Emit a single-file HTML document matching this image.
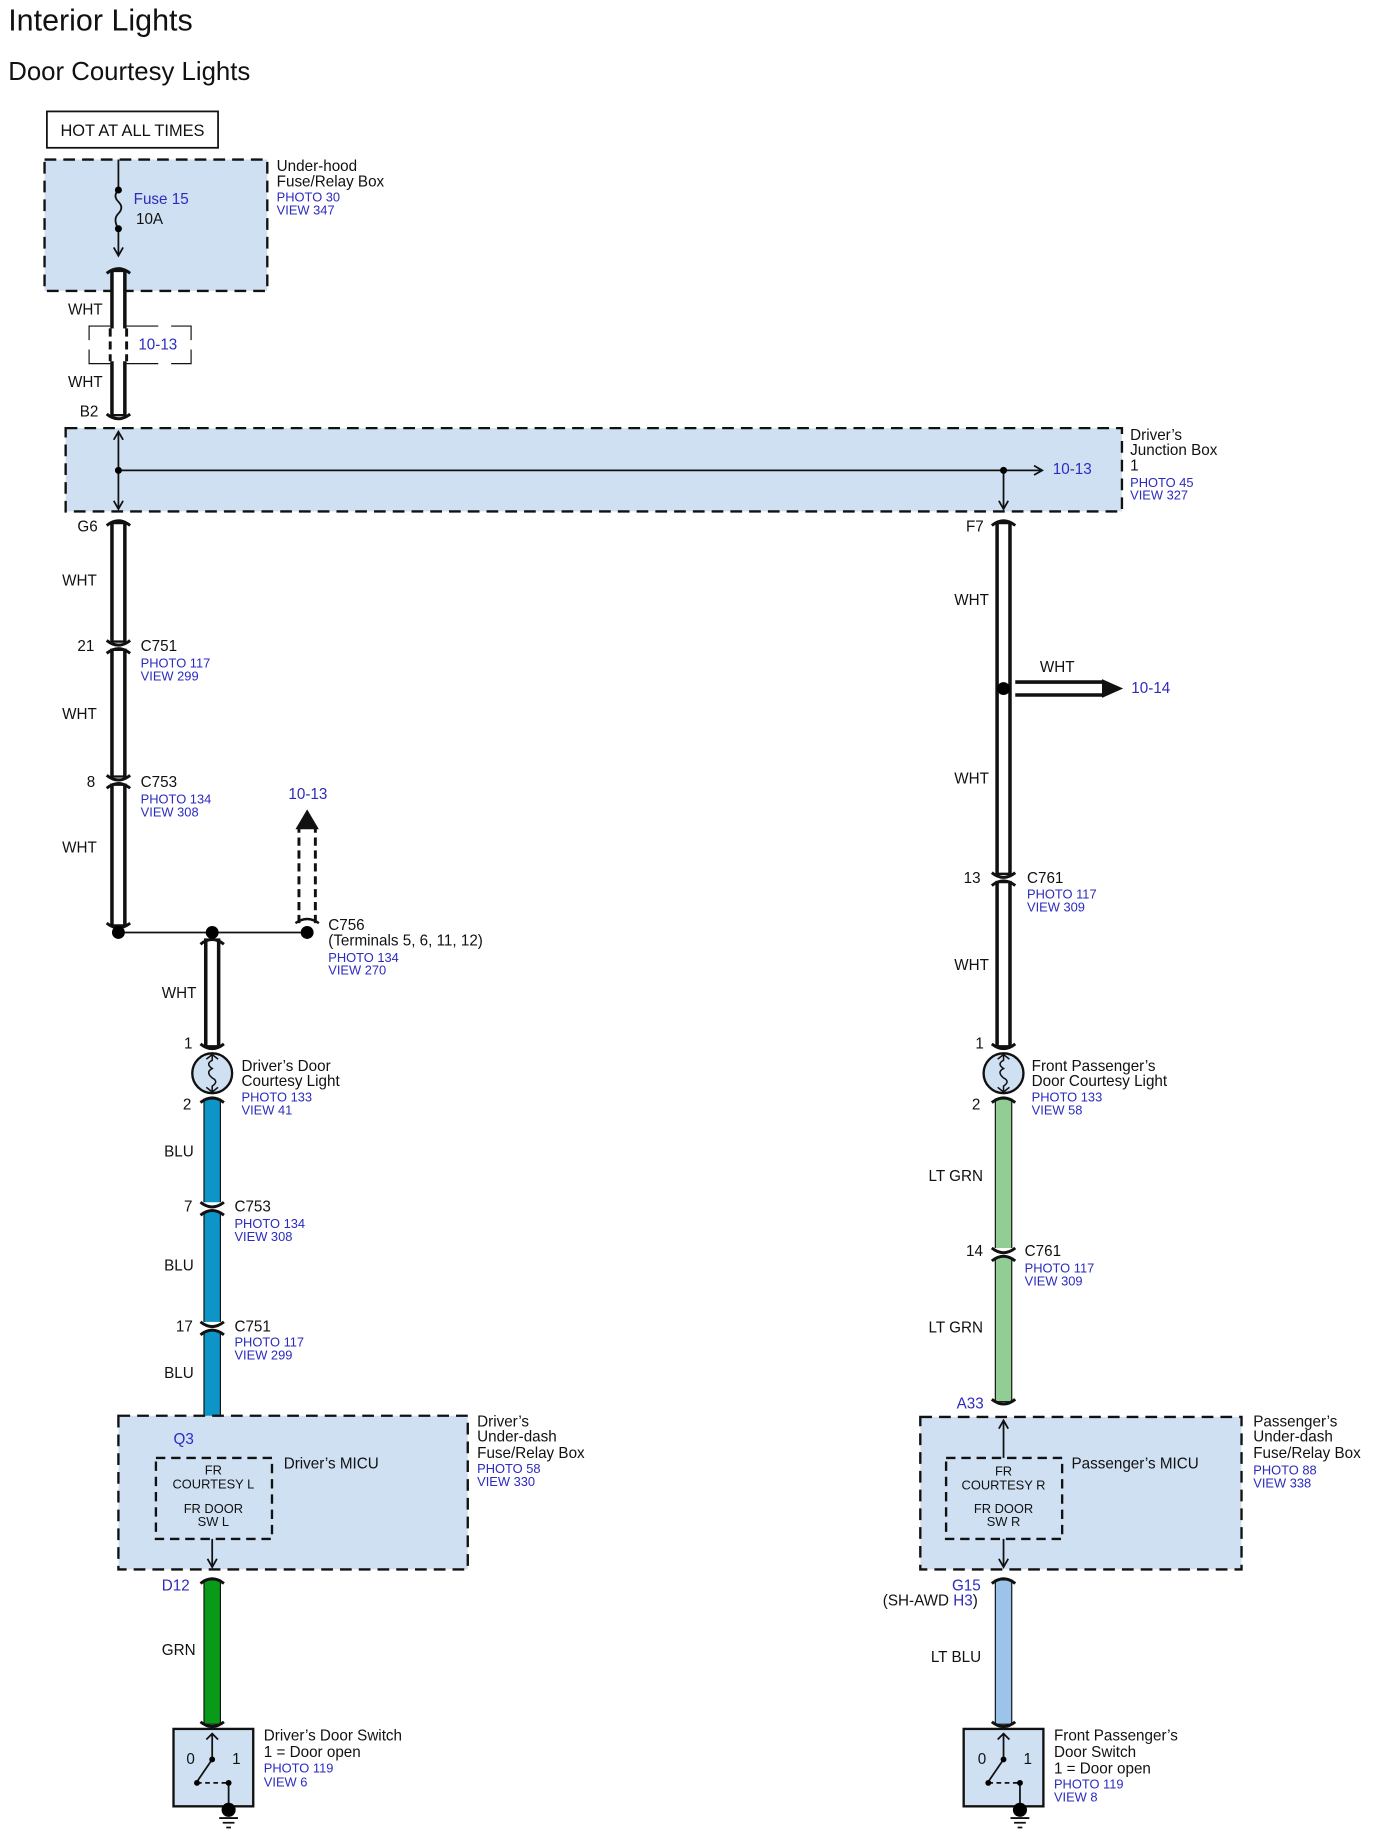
<!DOCTYPE html>
<html><head><meta charset="utf-8"><style>
html,body{margin:0;padding:0;background:#fff}
svg{display:block}
text{font-family:"Liberation Sans",Arial,sans-serif;font-size:13px;fill:#111}
.b{fill:#2b2bbf;font-size:11px}
.bb{fill:#2b2bbf}
.s{font-size:11px}
</style></head><body>
<svg width="1374" height="1838" viewBox="0 0 1172 1567" preserveAspectRatio="none" xmlns="http://www.w3.org/2000/svg">
<defs>
<marker id="ah" markerWidth="10" markerHeight="10" refX="8" refY="5" orient="auto" markerUnits="userSpaceOnUse">
<path d="M1,1 L8,5 L1,9" fill="none" stroke="#111" stroke-width="1.5"/></marker>
</defs>
<text x="7" y="26" style="font-size:26px">Interior Lights</text>
<text x="7" y="68" style="font-size:22px">Door Courtesy Lights</text>

<rect x="40" y="95" width="146" height="31" fill="#fff" stroke="#111" stroke-width="1.5"/>
<text x="113" y="116" text-anchor="middle" style="font-size:14px">HOT AT ALL TIMES</text>

<rect x="38" y="136" width="190" height="112" fill="#cfe0f3" stroke="#111" stroke-width="2" stroke-dasharray="10,6"/>
<path d="M101,136 V162 M101,195 V218" stroke="#111" stroke-width="1.5" marker-end="url(#ah)"/>
<path d="M101,162 q-5,5 0,10 q5,5 0,10 q-5,5 0,13" fill="none" stroke="#111" stroke-width="1.5"/>
<circle cx="101" cy="162" r="3"/><circle cx="101" cy="195" r="3"/>
<text x="114" y="174" class="bb">Fuse 15</text>
<text x="116" y="191">10A</text>
<text x="236" y="146">Under-hood</text><text x="236" y="159">Fuse/Relay Box</text>
<text x="236" y="172" class="b">PHOTO 30</text><text x="236" y="183" class="b">VIEW 347</text>

<g stroke="#111" stroke-width="14" fill="none">
<path d="M101,230 V355"/><path d="M101,445 V548 M101,553 V663 M101,668 V790"/>
<path d="M181,800 V893"/><path d="M856,445 V746 M856,751 V893"/>
<path d="M866,587 H942"/>
</g>
<g stroke="#fff" stroke-width="8" fill="none">
<path d="M101,232 V353"/><path d="M101,447 V546 M101,555 V661 M101,670 V788"/>
<path d="M181,802 V891"/><path d="M856,447 V744 M856,753 V891"/>
<path d="M864,587 H942"/>
</g>
<polygon points="940,579 958,587 940,595" fill="#111"/>
<rect x="88" y="280" width="26" height="28" fill="#fff"/>
<path d="M94,280 V308 M108,280 V308" stroke="#111" stroke-width="2.5" stroke-dasharray="7,4"/>
<path d="M76,290 V278 H94 M108,278 H135 M146,278 H163 V290 M76,298 V310 H94 M108,310 H135 M146,310 H163 V298" fill="none" stroke="#111" stroke-width="1"/>
<text x="118" y="298" class="bb">10-13</text>

<rect x="174" y="937" width="14" height="295" fill="#0d95c8" stroke="#111" stroke-width="1"/>
<rect x="174" y="1347" width="14" height="123" fill="#0a9a1a" stroke="#111" stroke-width="1"/>
<rect x="849" y="937" width="14" height="258" fill="#93cd96" stroke="#111" stroke-width="1"/>
<rect x="849" y="1347" width="14" height="123" fill="#9cc3ea" stroke="#111" stroke-width="1"/>
<g fill="#fff"><rect x="170" y="1025" width="22" height="8"/><rect x="170" y="1127" width="22" height="8"/><rect x="845" y="1064" width="22" height="8"/></g>

<g fill="none" stroke="#111" stroke-width="2.5">
<path d="M91,233 Q101,225 111,233"/><path d="M91,353 Q101,361 111,353"/>
<path d="M91,448 Q101,440 111,448"/><path d="M91,546 Q101,554 111,546"/><path d="M91,557 Q101,549 111,557"/>
<path d="M91,661 Q101,669 111,661"/><path d="M91,672 Q101,664 111,672"/><path d="M91,787 Q101,795 111,787"/>
<path d="M171,805 Q181,797 191,805"/><path d="M171,890 Q181,898 191,890"/>
<path d="M171,940 Q181,932 191,940"/><path d="M171,1025 Q181,1033 191,1025"/><path d="M171,1036 Q181,1028 191,1036"/>
<path d="M171,1127 Q181,1135 191,1127"/><path d="M171,1138 Q181,1130 191,1138"/><path d="M171,1230 Q181,1238 191,1230"/>
<path d="M171,1350 Q181,1342 191,1350"/><path d="M171,1468 Q181,1476 191,1468"/>
<path d="M846,448 Q856,440 866,448"/><path d="M846,744 Q856,752 866,744"/><path d="M846,755 Q856,747 866,755"/>
<path d="M846,890 Q856,898 866,890"/><path d="M846,940 Q856,932 866,940"/>
<path d="M846,1064 Q856,1072 866,1064"/><path d="M846,1075 Q856,1067 866,1075"/><path d="M846,1193 Q856,1201 866,1193"/>
<path d="M846,1350 Q856,1342 866,1350"/><path d="M846,1468 Q856,1476 866,1468"/>
</g>
<text x="58" y="268">WHT</text><text x="58" y="330">WHT</text>
<text x="68" y="355">B2</text>

<rect x="56" y="365" width="901" height="71" fill="#cfe0f3" stroke="#111" stroke-width="2" stroke-dasharray="10,6"/>
<path d="M101,401 V368" stroke="#111" stroke-width="1.5" marker-end="url(#ah)"/>
<path d="M101,401 V434" stroke="#111" stroke-width="1.5" marker-end="url(#ah)"/>
<path d="M101,401 H889" stroke="#111" stroke-width="1.5" marker-end="url(#ah)"/>
<path d="M856,401 V434" stroke="#111" stroke-width="1.5" marker-end="url(#ah)"/>
<circle cx="101" cy="401" r="3"/><circle cx="856" cy="401" r="3"/>
<text x="898" y="404" class="bb">10-13</text>
<text x="964" y="375">Driver’s</text><text x="964" y="388">Junction Box</text><text x="964" y="401">1</text>
<text x="964" y="415" class="b">PHOTO 45</text><text x="964" y="426" class="b">VIEW 327</text>
<text x="66" y="453">G6</text><text x="824" y="453">F7</text>

<text x="53" y="499">WHT</text><text x="53" y="613">WHT</text><text x="53" y="727">WHT</text>
<text x="66" y="555">21</text><text x="120" y="555">C751</text><text x="120" y="569" class="b">PHOTO 117</text><text x="120" y="580" class="b">VIEW 299</text>
<text x="74" y="671">8</text><text x="120" y="671">C753</text><text x="120" y="685" class="b">PHOTO 134</text><text x="120" y="696" class="b">VIEW 308</text>

<path d="M101,795 H262" stroke="#111" stroke-width="1.5"/>
<circle cx="101" cy="795" r="5.5"/><circle cx="181" cy="795" r="5.5"/><circle cx="262" cy="795" r="5.5"/>
<path d="M255,787 V706 M269,787 V706" stroke="#111" stroke-width="2.5" stroke-dasharray="7,4"/>
<path d="M252,787 Q262,780 272,787" fill="none" stroke="#111" stroke-width="2"/>
<polygon points="252,707 262,690 272,707" fill="#111"/>
<text x="246" y="681" class="bb">10-13</text>
<text x="280" y="793">C756</text><text x="280" y="806">(Terminals 5, 6, 11, 12)</text>
<text x="280" y="820" class="b">PHOTO 134</text><text x="280" y="831" class="b">VIEW 270</text>

<text x="138" y="851">WHT</text><text x="157" y="894">1</text>
<g fill="#cfe0f3" stroke="#111" stroke-width="2"><circle cx="181" cy="915" r="17"/><circle cx="856" cy="915" r="17"/></g>
<g fill="none" stroke="#111" stroke-width="1.3">
<path d="M181,899 v5 q-6,3 0,7 q-6,3 0,8 q6,3 0,7 v5 M176,903 l5,-4 5,4 M176,927 l5,4 5,-4"/>
<path d="M856,899 v5 q-6,3 0,7 q-6,3 0,8 q6,3 0,7 v5 M851,903 l5,-4 5,4 M851,927 l5,4 5,-4"/>
</g>
<text x="206" y="913">Driver’s Door</text><text x="206" y="926">Courtesy Light</text>
<text x="206" y="939" class="b">PHOTO 133</text><text x="206" y="950" class="b">VIEW 41</text>
<text x="156" y="946">2</text>
<text x="140" y="986">BLU</text><text x="140" y="1083">BLU</text><text x="140" y="1175">BLU</text>
<text x="157" y="1033">7</text><text x="200" y="1033">C753</text><text x="200" y="1047" class="b">PHOTO 134</text><text x="200" y="1058" class="b">VIEW 308</text>
<text x="150" y="1135">17</text><text x="200" y="1135">C751</text><text x="200" y="1148" class="b">PHOTO 117</text><text x="200" y="1159" class="b">VIEW 299</text>

<rect x="101" y="1207" width="298" height="131" fill="#cfe0f3" stroke="#111" stroke-width="2" stroke-dasharray="10,6"/>
<rect x="133" y="1243" width="99" height="69" fill="none" stroke="#111" stroke-width="2" stroke-dasharray="8,5"/>
<path d="M181,1312 V1336" stroke="#111" stroke-width="1.5" marker-end="url(#ah)"/>
<text x="148" y="1231" class="bb">Q3</text>
<g text-anchor="middle"><text x="182" y="1257" class="s">FR</text><text x="182" y="1269" class="s">COURTESY L</text><text x="182" y="1290" class="s">FR DOOR</text><text x="182" y="1301" class="s">SW L</text></g>
<text x="242" y="1252">Driver’s MICU</text>
<text x="407" y="1216">Driver’s</text><text x="407" y="1229">Under-dash</text><text x="407" y="1243">Fuse/Relay Box</text>
<text x="407" y="1256" class="b">PHOTO 58</text><text x="407" y="1267" class="b">VIEW 330</text>
<text x="138" y="1356" class="bb">D12</text>
<text x="138" y="1411">GRN</text>

<rect x="148" y="1474" width="68" height="66" fill="#cfe0f3" stroke="#111" stroke-width="2"/>
<g stroke="#111" stroke-width="1.5" fill="none">
<path d="M181,1500 V1478 M176,1483 l5,-5 5,5"/><path d="M181,1500 L168,1519"/><path d="M168,1520 H195" stroke-dasharray="4,3"/><path d="M195,1520 V1545"/>
<path d="M187,1550 h16 M190,1554 h10 M193,1558 h4"/>
</g>
<circle cx="181" cy="1500" r="2.5"/><circle cx="168" cy="1520" r="2.5"/><circle cx="195" cy="1520" r="2.5"/><circle cx="195" cy="1543" r="6"/>
<text x="159" y="1504">0</text><text x="198" y="1504">1</text>
<text x="225" y="1484">Driver’s Door Switch</text><text x="225" y="1498">1 = Door open</text>
<text x="225" y="1511" class="b">PHOTO 119</text><text x="225" y="1523" class="b">VIEW 6</text>

<circle cx="856" cy="587" r="5.5"/>
<text x="814" y="516">WHT</text><text x="887" y="573">WHT</text><text x="965" y="591" class="bb">10-14</text>
<text x="814" y="668">WHT</text><text x="814" y="827">WHT</text>
<text x="822" y="753">13</text><text x="876" y="753">C761</text><text x="876" y="766" class="b">PHOTO 117</text><text x="876" y="777" class="b">VIEW 309</text>
<text x="832" y="894">1</text>
<text x="880" y="913">Front Passenger’s</text><text x="880" y="926">Door Courtesy Light</text>
<text x="880" y="939" class="b">PHOTO 133</text><text x="880" y="950" class="b">VIEW 58</text>
<text x="829" y="946">2</text>
<text x="792" y="1007">LT GRN</text><text x="792" y="1136">LT GRN</text>
<text x="824" y="1071">14</text><text x="874" y="1071">C761</text><text x="874" y="1085" class="b">PHOTO 117</text><text x="874" y="1096" class="b">VIEW 309</text>
<text x="816" y="1201" class="bb">A33</text>

<rect x="785" y="1208" width="274" height="130" fill="#cfe0f3" stroke="#111" stroke-width="2" stroke-dasharray="10,6"/>
<rect x="807" y="1243" width="99" height="69" fill="none" stroke="#111" stroke-width="2" stroke-dasharray="8,5"/>
<path d="M856,1243 V1211" stroke="#111" stroke-width="1.5" marker-end="url(#ah)"/>
<path d="M856,1312 V1336" stroke="#111" stroke-width="1.5" marker-end="url(#ah)"/>
<g text-anchor="middle"><text x="856" y="1258" class="s">FR</text><text x="856" y="1270" class="s">COURTESY R</text><text x="856" y="1290" class="s">FR DOOR</text><text x="856" y="1301" class="s">SW R</text></g>
<text x="914" y="1252">Passenger’s MICU</text>
<text x="1069" y="1216">Passenger’s</text><text x="1069" y="1229">Under-dash</text><text x="1069" y="1243">Fuse/Relay Box</text>
<text x="1069" y="1257" class="b">PHOTO 88</text><text x="1069" y="1268" class="b">VIEW 338</text>
<text x="812" y="1356" class="bb">G15</text>
<text x="753" y="1369">(SH-AWD <tspan style="fill:#2b2bbf">H3</tspan>)</text>
<text x="794" y="1417">LT BLU</text>

<rect x="822" y="1474" width="68" height="66" fill="#cfe0f3" stroke="#111" stroke-width="2"/>
<g stroke="#111" stroke-width="1.5" fill="none">
<path d="M856,1500 V1478 M851,1483 l5,-5 5,5"/><path d="M856,1500 L843,1519"/><path d="M843,1520 H870" stroke-dasharray="4,3"/><path d="M870,1520 V1545"/>
<path d="M862,1550 h16 M865,1554 h10 M868,1558 h4"/>
</g>
<circle cx="856" cy="1500" r="2.5"/><circle cx="843" cy="1520" r="2.5"/><circle cx="870" cy="1520" r="2.5"/><circle cx="870" cy="1543" r="6"/>
<text x="834" y="1504">0</text><text x="873" y="1504">1</text>
<text x="899" y="1484">Front Passenger’s</text><text x="899" y="1498">Door Switch</text><text x="899" y="1512">1 = Door open</text>
<text x="899" y="1525" class="b">PHOTO 119</text><text x="899" y="1536" class="b">VIEW 8</text>
</svg>
</body></html>
